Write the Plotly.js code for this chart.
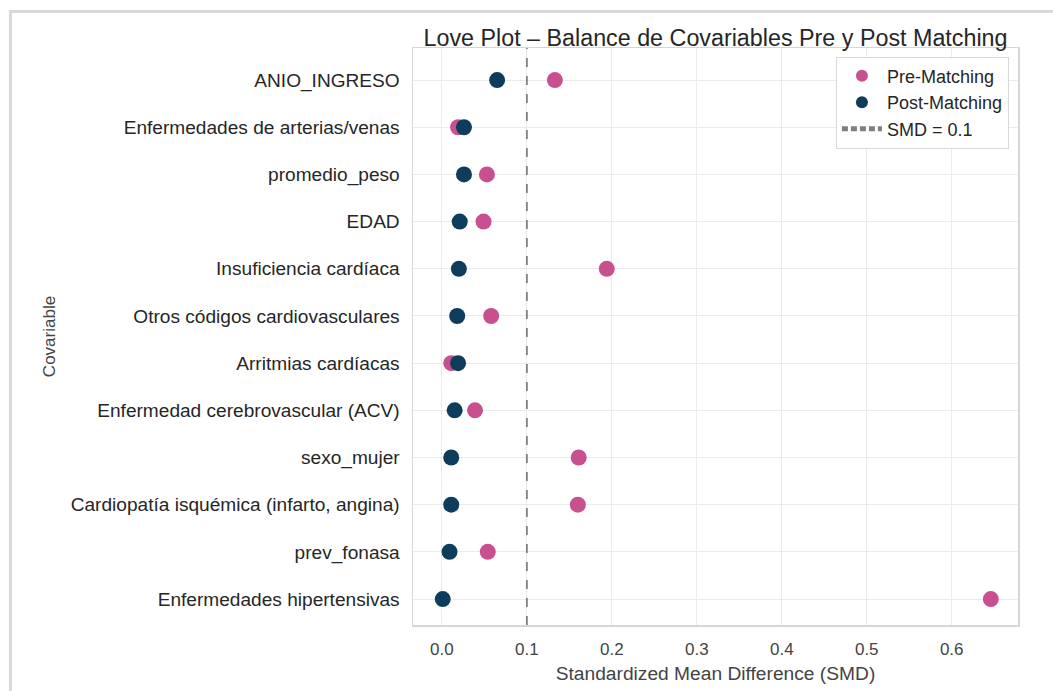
<!DOCTYPE html>
<html>
<head>
<meta charset="utf-8">
<script src="https://cdn.plot.ly/plotly-3.0.1.min.js"></script>
<style>
html,body{margin:0;padding:0;background:#fff;}
#frame{position:absolute;left:9px;top:10px;width:1060px;height:700px;border-left:3px solid #d9d9d9;border-top:3px solid #d9d9d9;pointer-events:none;}
#chart{width:1053px;height:691px;}
</style>
</head>
<body>
<div id="chart"></div>
<div id="frame"></div>
<script>
// categories, top to bottom as shown
const covariables = [
  "ANIO_INGRESO",
  "Enfermedades de arterias/venas",
  "promedio_peso",
  "EDAD",
  "Insuficiencia cardíaca",
  "Otros códigos cardiovasculares",
  "Arritmias cardíacas",
  "Enfermedad cerebrovascular (ACV)",
  "sexo_mujer",
  "Cardiopatía isquémica (infarto, angina)",
  "prev_fonasa",
  "Enfermedades hipertensivas"
];
const smdPre  = [0.133, 0.019, 0.053, 0.049, 0.194, 0.058, 0.011, 0.039, 0.161, 0.160, 0.054, 0.646];
const smdPost = [0.065, 0.026, 0.026, 0.021, 0.020, 0.018, 0.019, 0.015, 0.011, 0.011, 0.009, 0.001];
const threshold = 0.1;
const xTicks = [0, 0.1, 0.2, 0.3, 0.4, 0.5, 0.6];
const xTickLabels = ["0.0", "0.1", "0.2", "0.3", "0.4", "0.5", "0.6"];

const font = "Liberation Sans, Arial, sans-serif";
const pink = "#c9508f";
const navy = "#0e3d5c";

const traces = [
  {type: "scatter", mode: "markers", name: "Pre-Matching", x: smdPre, y: covariables,
   marker: {color: pink, size: 16}, cliponaxis: false},
  {type: "scatter", mode: "markers", name: "Post-Matching", x: smdPost, y: covariables,
   marker: {color: navy, size: 16}, cliponaxis: false},
  {type: "scatter", mode: "lines", name: "SMD = " + threshold, x: [threshold, threshold], y: [covariables[0], covariables[0]],
   line: {color: "#7f7f7f", width: 1.6, dash: "6px,3px"}, hoverinfo: "skip"}
];

const layout = {
  width: 1053, height: 691,
  margin: {l: 413, r: 35, t: 48, b: 66},
  paper_bgcolor: "#ffffff", plot_bgcolor: "#ffffff",
  font: {family: font, size: 19, color: "#262626"},
  title: {text: "Love Plot – Balance de Covariables Pre y Post Matching",
          font: {family: font, size: 23.3, color: "#262626"},
          x: 0.5, xref: "paper", xanchor: "center", y: 0.945, yref: "container", yanchor: "middle"},
  xaxis: {range: [-0.034, 0.678], tickvals: xTicks, ticktext: xTickLabels,
          showgrid: true, gridcolor: "#ebebeb", gridwidth: 1, zeroline: false,
          showline: true, linecolor: "#d6d6d6", linewidth: 1.5, mirror: true,
          ticks: "", ticklabelstandoff: 8,
          tickfont: {size: 17, color: "#444"},
          title: {text: "Standardized Mean Difference (SMD)", font: {size: 19.2, color: "#444"}, standoff: 8}},
  yaxis: {type: "category", categoryorder: "array", categoryarray: covariables.slice().reverse(),
          range: [-0.55, 11.68], showgrid: true, gridcolor: "#ebebeb", gridwidth: 1, zeroline: false,
          showline: true, linecolor: "#d6d6d6", linewidth: 1.5, mirror: true,
          ticks: "", ticklabelstandoff: 8,
          tickfont: {size: 19.1, color: "#262626"},
          title: {text: "Covariable", font: {size: 17, color: "#444"}, standoff: 10}},
  shapes: [{type: "line", xref: "x", yref: "paper", x0: threshold, x1: threshold, y0: 0, y1: 1,
            line: {color: "#7f7f7f", width: 1.8, dash: "dash"}}],
  legend: {x: 0.985, xanchor: "right", y: 0.985, yanchor: "top",
           bgcolor: "#ffffff", bordercolor: "#d9d9d9", borderwidth: 1,
           font: {size: 18, color: "#262626"}, itemsizing: "constant", itemwidth: 40, tracegroupgap: 0},
  showlegend: true
};

Plotly.newPlot("chart", traces, layout, {displayModeBar: false, staticPlot: true});
</script>
</body>
</html>
